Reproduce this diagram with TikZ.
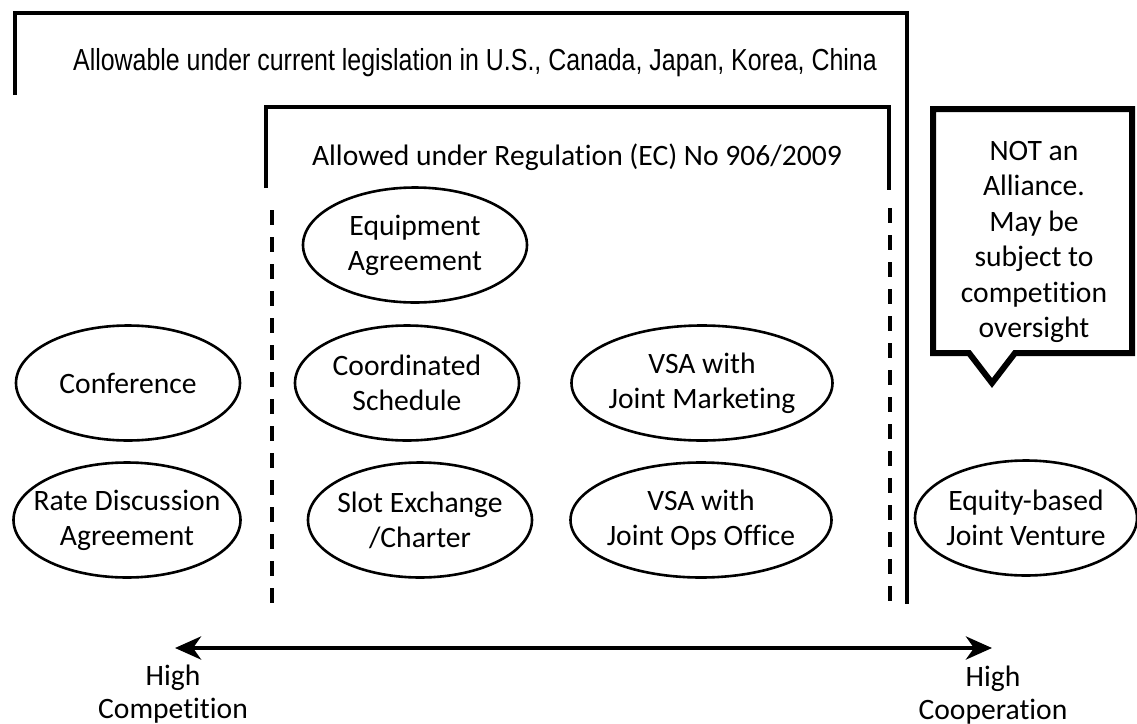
\documentclass[tikz,border=0pt]{standalone}
\usepackage{fontspec}
\setmainfont{Carlito}[Ligatures=NoCommon]
\newfontfamily\narrowsans[FakeStretch=0.82]{Liberation Sans}
\usetikzlibrary{shapes.geometric,arrows.meta}

\begin{document}
\begin{tikzpicture}[x=0.5pt,y=-0.5pt,
		oval/.style={ellipse,draw,line width=1.3pt,minimum width=112pt,minimum height=57.5pt,
			inner xsep=-20pt,inner ysep=-5pt,align=center,font=\fontsize{14.8}{17.5}\selectfont},
		wideoval/.style={oval,minimum width=130.5pt},
		bracket/.style={line width=1.7pt},
		divider/.style={line width=1.7pt,dash pattern=on 7.5pt off 6pt},
		endlabel/.style={align=center,font=\fontsize{14.8}{16.5}\selectfont}]
	\useasboundingbox (0,0) rectangle (1137,724);
	
	% legislation brackets
	\draw [bracket] (15,95) -- (15,13) -- (907,13) -- (907,604);
	\node (usLaw) at (475,63) {\narrowsans\fontsize{15.2}{18}\selectfont Allowable under current legislation in U.S., Canada, Japan, Korea, China};
	
	\draw [bracket] (266,188) -- (266,107) -- (889,107) -- (889,190);
	\node (ecLaw) at (577,157) {\fontsize{14.8}{17.5}\selectfont Allowed under Regulation (EC) No 906/2009};
	\draw [divider] (272,210) -- (272,607);
	\draw [divider] (890,208) -- (890,605);
	
	% agreements
	\node [oval] (conference) at (128,383) {Conference};
	\node [oval,minimum width=113.5pt] (rateDisc) at (127,520) {Rate Discussion\\Agreement};
	\node [oval] (equipment) at (415,245) {Equipment\\Agreement};
	\node [oval] (coordSched) at (407,383) {Coordinated\\Schedule};
	\node [oval] (slotCharter) at (420,520) {Slot Exchange\\/Charter};
	\node [wideoval] (vsaMarket) at (702,383) {VSA with\\Joint Marketing};
	\node [wideoval] (vsaOps) at (701,520) {VSA with\\Joint Ops Office};
	\node [oval,minimum width=111pt] (jointVenture) at (1026,518) {Equity-based\\Joint Venture};
	
	% callout
	\draw [line width=3pt,line join=miter] (933,109) -- (1132,109) -- (1132,353) -- (1015,353)
		-- (992,383) -- (969,353) -- (933,353) -- cycle;
	\node [align=center,font=\fontsize{14.8}{17.75}\selectfont] (notAlliance) at (1034,242)
		{NOT an\\Alliance.\\May be\\subject to\\competition\\oversight};
	
	% competition -- cooperation axis
	\coordinate (compEnd) at (175,648);
	\coordinate (coopEnd) at (992,648);
	\draw [{Stealth[length=13pt,width=11.5pt,inset=4pt]}-{Stealth[length=13pt,width=11.5pt,inset=4pt]},line width=2.2pt] (compEnd) -- (coopEnd);
	\node [endlabel] (compLabel) at (173,694) {High\\Competition};
	\node [endlabel] (coopLabel) at (993,695) {High\\Cooperation};
\end{tikzpicture}
\end{document}
